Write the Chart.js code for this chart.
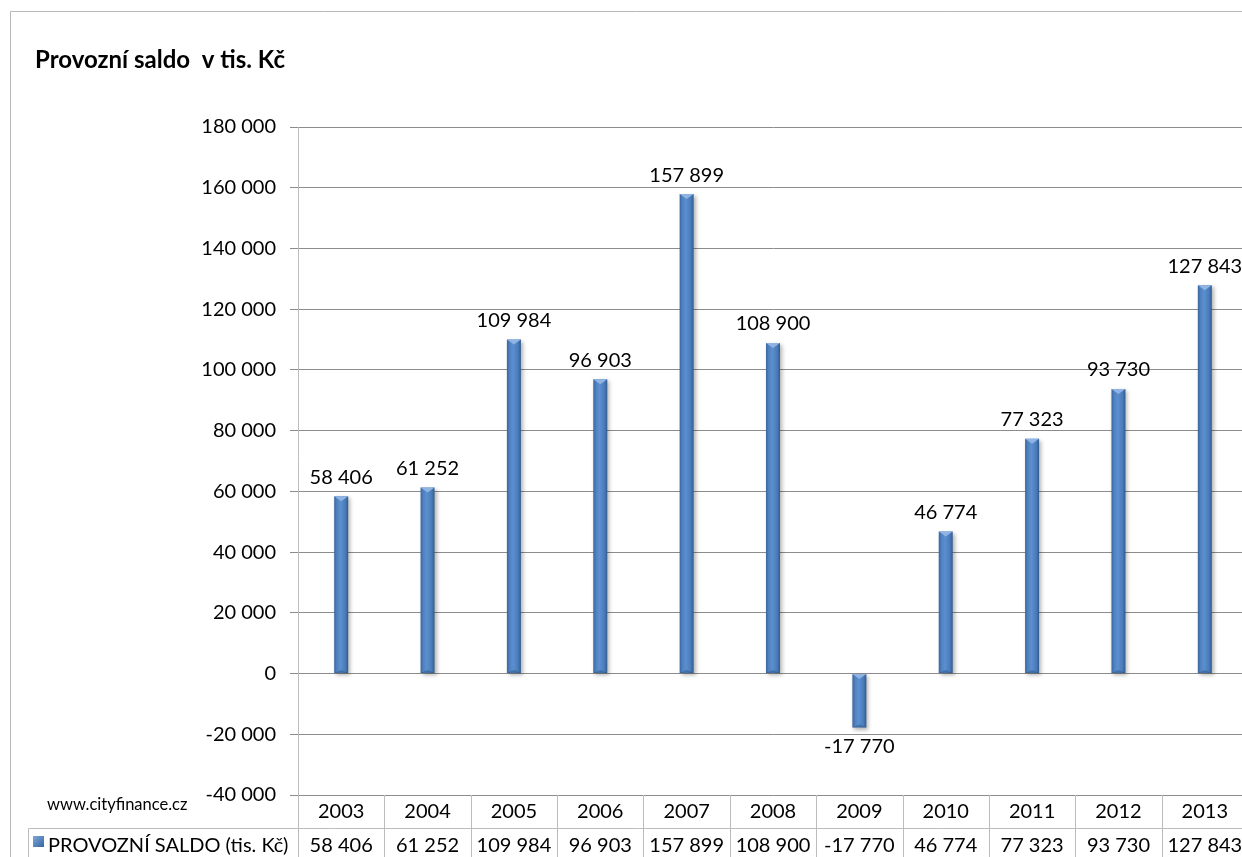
<!DOCTYPE html>
<html lang="cs">
<head>
<meta charset="utf-8">
<title>Provozní saldo</title>
<script src="https://cdn.jsdelivr.net/npm/chart.js@4/dist/chart.umd.min.js"></script>
<style>
  html, body { margin: 0; padding: 0; background: #fff; overflow: hidden; }
  #wrap { position: absolute; left: 0; top: 0; }
</style>
</head>
<body>
<div id="wrap"><canvas id="saldo" width="1262" height="870"></canvas></div>
<script>
const YEARS = ['2003','2004','2005','2006','2007','2008','2009','2010','2011','2012','2013'];
const SALDO = [58406, 61252, 109984, 96903, 157899, 108900, -17770, 46774, 77323, 93730, 127843];
const SERIES_NAME = 'PROVOZNÍ SALDO (tis. Kč)';
const TITLE = 'Provozní saldo  v tis. Kč';
const SOURCE = 'www.cityfinance.cz';
const Y_MIN = -40000, Y_MAX = 180000, Y_STEP = 20000;

const FONT = 'Lato, "Open Sans", sans-serif';
const GRID = '#8c8c8c';
const TABLE_LINE = '#bcbcbc';

function fmt(v){
  const s = String(Math.abs(v)).replace(/\B(?=(\d{3})+(?!\d))/g, ' ');
  return (v < 0 ? '-' : '') + s;
}

function barGradient(ctx, x0, x1){
  const g = ctx.createLinearGradient(x0, 0, x1, 0);
  g.addColorStop(0, '#3a659f');
  g.addColorStop(0.2, '#4f82c0');
  g.addColorStop(0.45, '#5b8fd0');
  g.addColorStop(0.8, '#4a7bb8');
  g.addColorStop(1, '#2f5a8f');
  return g;
}

// shaded bars with a small bevel on top and a soft drop shadow
const barLook = {
  id: 'barLook',
  beforeDatasetsDraw(chart){
    const ctx = chart.ctx;
    chart.getDatasetMeta(0).data.forEach(el => {
      el.options.backgroundColor = barGradient(ctx, el.x - el.width/2, el.x + el.width/2);
    });
    ctx.save();
    ctx.shadowColor = 'rgba(0,0,0,0.3)';
    ctx.shadowBlur = 4;
    ctx.shadowOffsetX = 2;
    ctx.shadowOffsetY = 2;
  },
  afterDatasetsDraw(chart){
    const ctx = chart.ctx;
    ctx.restore();
    chart.getDatasetMeta(0).data.forEach(el => {
      const l = el.x - el.width/2, r = el.x + el.width/2;
      const top = Math.min(el.y, el.base), bot = Math.max(el.y, el.base);
      ctx.save();
      ctx.fillStyle = '#8fb4e3';
      ctx.beginPath();
      ctx.moveTo(l, top); ctx.lineTo(r, top); ctx.lineTo(el.x, top + 5);
      ctx.closePath(); ctx.fill();
      ctx.fillStyle = 'rgba(30,60,100,0.35)';
      ctx.beginPath();
      ctx.moveTo(l, bot); ctx.lineTo(r, bot); ctx.lineTo(el.x, bot - 3);
      ctx.closePath(); ctx.fill();
      ctx.restore();
    });
  }
};

// value labels above (or below) every bar
const valueLabels = {
  id: 'valueLabels',
  afterDatasetsDraw(chart){
    const ctx = chart.ctx;
    ctx.save();
    ctx.font = '20px ' + FONT;
    ctx.fillStyle = '#000';
    ctx.textAlign = 'center';
    ctx.textBaseline = 'middle';
    chart.getDatasetMeta(0).data.forEach((el, i) => {
      const v = SALDO[i];
      ctx.fillText(fmt(v), el.x, v >= 0 ? el.y - 19 : el.y + 19);
    });
    ctx.restore();
  }
};

// frame, title, source note and the data table under the axis
const frameAndTable = {
  id: 'frameAndTable',
  afterDraw(chart){
    const ctx = chart.ctx;
    const W = chart.width, H = chart.height;
    const area = chart.chartArea;
    const xs = chart.scales.x;
    const step = xs.getPixelForValue(1) - xs.getPixelForValue(0);
    const rowSplit = area.bottom + 33.5;

    ctx.save();
    ctx.lineWidth = 1;

    // chart frame
    ctx.strokeStyle = '#b8b8b8';
    ctx.beginPath();
    ctx.moveTo(10.5, H); ctx.lineTo(10.5, 11.5); ctx.lineTo(W, 11.5);
    ctx.stroke();

    // table grid
    ctx.strokeStyle = TABLE_LINE;
    ctx.beginPath();
    ctx.moveTo(28.5, H); ctx.lineTo(28.5, rowSplit); ctx.lineTo(area.right, rowSplit);
    ctx.moveTo(Math.round(area.left) + 0.5, area.bottom); ctx.lineTo(Math.round(area.left) + 0.5, H);
    for(let i=0;i<YEARS.length;i++){
      const bx = Math.round(xs.getPixelForValue(i) + step/2) + 0.5;
      ctx.moveTo(bx, area.bottom); ctx.lineTo(bx, H);
    }
    ctx.stroke();

    // title
    ctx.fillStyle = '#000';
    ctx.textBaseline = 'middle';
    ctx.textAlign = 'left';
    ctx.font = 'bold 24px ' + FONT;
    ctx.fillText(TITLE, 35, 60);

    // source note
    ctx.font = '16.5px ' + FONT;
    ctx.fillText(SOURCE, 47, 805);

    // legend key + series name
    const kg = ctx.createLinearGradient(33, 836, 44, 847);
    kg.addColorStop(0, '#7fa8dc');
    kg.addColorStop(1, '#35659f');
    ctx.fillStyle = kg;
    ctx.fillRect(33, 836, 11, 11);
    ctx.fillStyle = '#000';
    ctx.font = '20px ' + FONT;
    ctx.fillText(SERIES_NAME, 48, 846);

    // value row
    ctx.textAlign = 'center';
    SALDO.forEach((v, i) => {
      ctx.fillText(fmt(v), xs.getPixelForValue(i), 846);
    });
    ctx.restore();
  }
};

const ctx = document.getElementById('saldo').getContext('2d');
new Chart(ctx, {
  type: 'bar',
  data: {
    labels: YEARS,
    datasets: [{
      label: SERIES_NAME,
      data: SALDO,
      // scriptable so every bar keeps its own options object
      backgroundColor: c => '#4f81bd',
      borderWidth: 0,
      barPercentage: 0.9,
      categoryPercentage: 0.18
    }]
  },
  options: {
    responsive: false,
    devicePixelRatio: 1,
    animation: false,
    layout: { padding: { top: 127, right: 14, left: 0, bottom: 0 } },
    plugins: {
      legend: { display: false },
      title: { display: false },
      tooltip: { enabled: false }
    },
    scales: {
      x: {
        offset: true,
        grid: { display: false, drawTicks: false },
        border: { display: false },
        ticks: { color: '#000', font: { family: FONT, size: 20 }, padding: 5, maxRotation: 0 },
        afterFit(scale){ scale.height = 75; }
      },
      y: {
        min: Y_MIN,
        max: Y_MAX,
        ticks: {
          stepSize: Y_STEP,
          color: '#000',
          font: { family: FONT, size: 20 },
          padding: 14,
          callback: v => fmt(v)
        },
        grid: { color: GRID, tickLength: 8, tickColor: GRID },
        border: { display: true, color: '#bdbdbd' },
        afterFit(scale){ scale.width = 298; }
      }
    }
  },
  plugins: [barLook, valueLabels, frameAndTable]
});
</script>
</body>
</html>
